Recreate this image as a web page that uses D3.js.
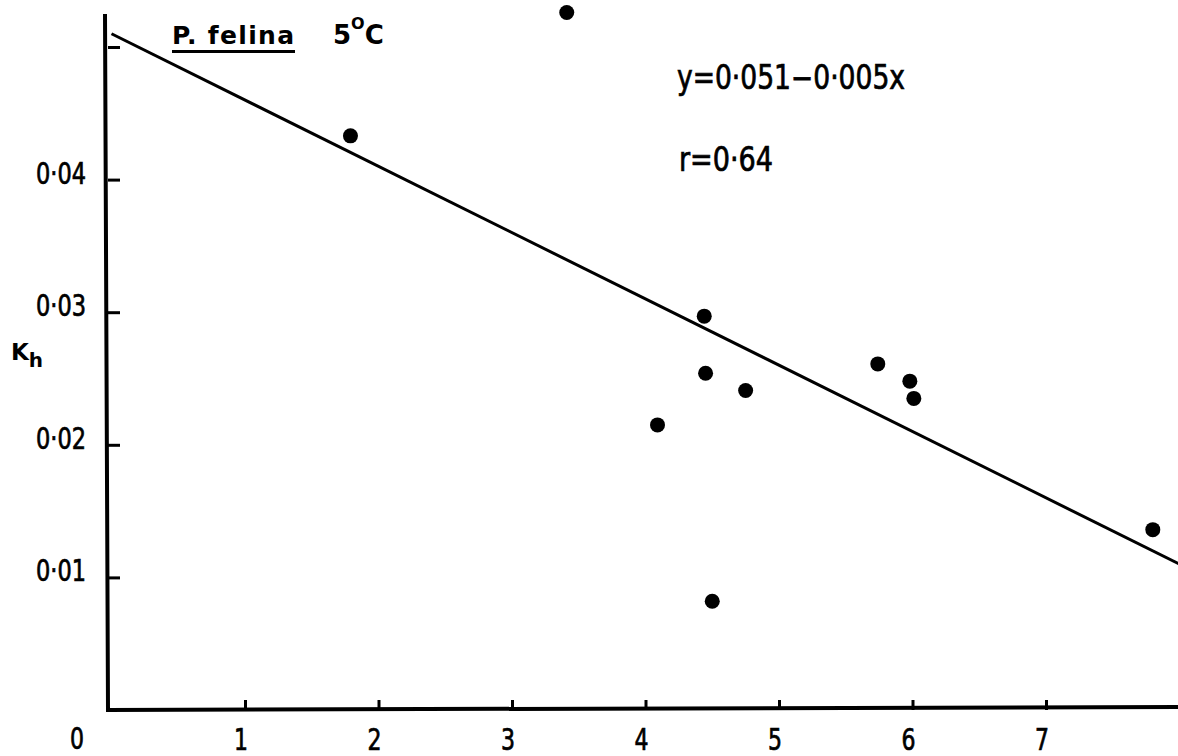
<!DOCTYPE html>
<html>
<head>
<meta charset="utf-8">
<script src="https://cdn.jsdelivr.net/npm/d3@7"></script>
<style>
  html, body { margin: 0; padding: 0; background: #fff; }
  svg { display: block; }
  .num { font-family: 'Liberation Sans Narrow', 'DejaVu Sans Condensed', 'DejaVu Sans', sans-serif; fill: #000; stroke: #000; stroke-width: 0.7px; }
</style>
</head>
<body>
<svg id="chart" width="1178" height="756"></svg>
<script>
// Half-saturation constant K_h against x for P. felina at 5 °C
const xValues = [1.79, 3.41, 4.44, 4.45, 4.75, 4.09, 5.74, 5.98, 6.01, 4.50, 7.80];
const khValues = [0.0433, 0.0526, 0.0297, 0.0254, 0.0241, 0.0215, 0.0261, 0.0248, 0.0235, 0.0082, 0.0136];

const xTicks = [1, 2, 3, 4, 5, 6, 7];
const xTickLabels = ["1", "2", "3", "4", "5", "6", "7"];
const yTicks = [0.01, 0.02, 0.03, 0.04, 0.05];
const yTickLabels = ["0·01", "0·02", "0·03", "0·04", ""];

// fitted line y = a + b·x
const fitIntercept = 0.051;
const fitSlope = -0.005;
const fitRange = [0, 8];
const fitText = "y=0·051−0·005x";
const rText = "r=0·64";

const svg = d3.select("#chart");
const x = d3.scaleLinear().domain([0, 8]).range([111.5, 1179.5]);
const y = d3.scaleLinear().domain([0, 0.05]).range([710, 47]);
const x0 = 108, y0 = 710;

// y-axis ticks (pointing into the plot)
const yAxis = d3.axisRight(y).tickValues(yTicks).tickSize(12).tickFormat("");
const gy = svg.append("g").attr("transform", `translate(${x0},0)`).call(yAxis);
gy.select(".domain").remove();
gy.selectAll(".tick line").attr("stroke", "#000").attr("stroke-width", 3);

// x-axis ticks (pointing up)
const xAxis = d3.axisTop(x).tickValues(xTicks).tickSize(10).tickFormat("");
const gx = svg.append("g").attr("transform", `translate(0,${y0})`).call(xAxis);
gx.select(".domain").remove();
gx.selectAll(".tick line").attr("stroke", "#000").attr("stroke-width", 3);

// axis lines
svg.append("path")
  .attr("d", `M${x0 - 3},14 L${x0},${y0} L1178,${y0 - 3}`)
  .attr("fill", "none").attr("stroke", "#000").attr("stroke-width", 4)
  .attr("stroke-linejoin", "miter");

// tick labels
svg.append("g").selectAll("text").data(yTicks).join("text")
  .attr("class", "num")
  .attr("x", 86).attr("y", d => y(d) + 4)
  .attr("text-anchor", "end")
  .attr("font-size", 30)
  .attr("textLength", d => d === 0.05 ? null : 50)
  .attr("lengthAdjust", "spacingAndGlyphs")
  .text((d, i) => yTickLabels[i]);

svg.append("g").selectAll("text").data(xTicks).join("text")
  .attr("class", "num")
  .attr("x", d => x(d) - 4).attr("y", 750)
  .attr("text-anchor", "middle")
  .attr("font-size", 30)
  .attr("textLength", 14)
  .attr("lengthAdjust", "spacingAndGlyphs")
  .text((d, i) => xTickLabels[i]);

svg.append("text").attr("class", "num")
  .attr("x", 77).attr("y", 749).attr("text-anchor", "middle")
  .attr("font-size", 30)
  .attr("textLength", 14).attr("lengthAdjust", "spacingAndGlyphs")
  .text("0");

// axis title K_h
const kh = svg.append("text")
  .attr("x", 11).attr("y", 360)
  .attr("font-family", "'DejaVu Sans', sans-serif")
  .attr("font-weight", "bold").attr("font-size", 23);
kh.append("tspan").text("K");
kh.append("tspan").attr("dy", 7).attr("font-size", 20).text("h");

// regression line
svg.append("line")
  .attr("x1", x(fitRange[0])).attr("y1", y(fitIntercept + fitSlope * fitRange[0]))
  .attr("x2", x(fitRange[1])).attr("y2", y(fitIntercept + fitSlope * fitRange[1]))
  .attr("stroke", "#000").attr("stroke-width", 3);

// observations
svg.append("g").selectAll("circle").data(xValues).join("circle")
  .attr("cx", d => x(d))
  .attr("cy", (d, i) => y(khValues[i]))
  .attr("r", 7.5)
  .attr("fill", "#000");

// species and temperature
svg.append("text")
  .attr("x", 172).attr("y", 44)
  .attr("font-family", "'DejaVu Sans', sans-serif")
  .attr("font-weight", "bold").attr("font-size", 25)
  .attr("textLength", 122).attr("lengthAdjust", "spacing")
  .text("P. felina");
svg.append("rect").attr("x", 172).attr("y", 50).attr("width", 123).attr("height", 3).attr("fill", "#000");

const temp = svg.append("text")
  .attr("x", 333).attr("y", 44)
  .attr("font-family", "'DejaVu Sans', sans-serif")
  .attr("font-weight", "bold").attr("font-size", 26);
temp.append("tspan").text("5");
temp.append("tspan").attr("dy", -15).attr("font-size", 16).text("O");
temp.append("tspan").attr("dy", 15).text("C");

// fit statistics
svg.append("text").attr("class", "num")
  .attr("x", 677).attr("y", 89)
  .attr("font-size", 33)
  .attr("textLength", 228).attr("lengthAdjust", "spacingAndGlyphs")
  .text(fitText);
svg.append("text").attr("class", "num")
  .attr("x", 679).attr("y", 171)
  .attr("font-size", 33)
  .attr("textLength", 94).attr("lengthAdjust", "spacingAndGlyphs")
  .text(rText);
</script>
</body>
</html>
